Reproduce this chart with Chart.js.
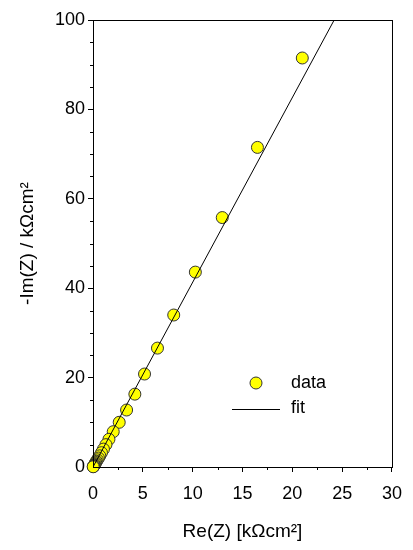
<!DOCTYPE html>
<html>
<head>
<meta charset="utf-8">
<script src="https://cdn.jsdelivr.net/npm/chart.js@4"></script>
<style>
  html, body { margin:0; padding:0; background:#fff; }
  #wrap { width:413px; height:550px; }
</style>
</head>
<body>
<div id="wrap"><canvas id="chart" width="413" height="550"></canvas></div>
<script>
// ── data ─────────────────────────────────────────────────────────────────────
const reZ = [21.0, 16.5, 12.97, 10.27, 8.1, 6.47, 5.17, 4.2, 3.37, 2.63, 2.03, 1.6, 1.3, 1.05,
             0.85, 0.68, 0.55, 0.43, 0.34, 0.27, 0.21, 0.16, 0.12, 0.09, 0.06, 0.04, 0.02];
const imZ = [91.5, 71.5, 55.8, 43.6, 34.0, 26.6, 20.8, 16.3, 12.75, 10.0, 7.9, 6.2, 5.0, 4.0,
             3.2, 2.5, 2.0, 1.6, 1.25, 1.0, 0.75, 0.55, 0.4, 0.28, 0.18, 0.1, 0.05];
const fitX = [0, 24.2];
const fitY = [0, 100];
const xTicksMinor = [2.5, 7.5, 12.5, 17.5, 22.5, 27.5];
const yTicksMinor = [5, 10, 15, 25, 30, 35, 45, 50, 55, 65, 70, 75, 85, 90, 95];

const FONT = "'Liberation Sans', Arial, sans-serif";
Chart.defaults.font.family = FONT;
Chart.defaults.color = "#000";

// frame + minor ticks + in-plot legend
const framePlugin = {
  id: "frame",
  afterDraw(chart) {
    const { ctx, chartArea: a, scales } = chart;
    ctx.save();
    ctx.strokeStyle = "#000";
    ctx.lineWidth = 1;
    ctx.strokeRect(a.left + 0.5, a.top + 0.5, a.right - a.left, a.bottom - a.top);
    ctx.beginPath();
    xTicksMinor.forEach(v => {
      const px = Math.round(scales.x.getPixelForValue(v)) + 0.5;
      ctx.moveTo(px, a.bottom); ctx.lineTo(px, a.bottom + 3);
    });
    yTicksMinor.forEach(v => {
      const py = Math.round(scales.y.getPixelForValue(v)) + 0.5;
      ctx.moveTo(a.left, py); ctx.lineTo(a.left - 3, py);
    });
    ctx.stroke();

    // legend
    const lx = 256, ly = 383;
    ctx.beginPath();
    ctx.arc(lx, ly, 6, 0, Math.PI * 2);
    ctx.fillStyle = "#ffff00"; ctx.fill();
    ctx.strokeStyle = "#333"; ctx.stroke();
    ctx.beginPath();
    ctx.moveTo(232, 409.5); ctx.lineTo(280, 409.5);
    ctx.strokeStyle = "#000"; ctx.stroke();
    ctx.fillStyle = "#000";
    ctx.font = "18px " + FONT;
    ctx.textBaseline = "middle";
    ctx.fillText("data", 291, ly);
    ctx.fillText("fit", 291, 408);
    ctx.restore();
  }
};

new Chart(document.getElementById("chart"), {
  type: "scatter",
  data: {
    datasets: [
      {
        label: "fit", type: "line",
        data: fitX.map((x, i) => ({ x, y: fitY[i] })),
        borderColor: "#000", borderWidth: 1, pointRadius: 0, fill: false, order: 1
      },
      {
        label: "data",
        data: reZ.map((x, i) => ({ x, y: imZ[i] })),
        backgroundColor: "#ffff00", borderColor: "#333", borderWidth: 1,
        pointRadius: 6, clip: false, order: 2
      }
    ]
  },
  options: {
    responsive: false, animation: false,
    layout: { padding: { top: 20, right: 20, left: 0, bottom: 0 } },
    plugins: { legend: { display: false }, tooltip: { enabled: false } },
    scales: {
      x: {
        type: "linear", min: 0, max: 30,
        afterFit: s => { s.height = 83; },
        ticks: { stepSize: 5, font: { size: 18 }, padding: 11, maxRotation: 0 },
        grid: { display: true, drawOnChartArea: false, tickLength: 5, color: "#000" },
        border: { color: "#000" },
        title: { display: true, text: "Re(Z) [kΩcm²]", font: { size: 19 }, padding: { top: 0, bottom: 7 } }
      },
      y: {
        type: "linear", min: 0, max: 100,
        afterFit: s => { s.width = 93; },
        ticks: { stepSize: 20, font: { size: 18 }, padding: 3 },
        grid: { display: true, drawOnChartArea: false, tickLength: 5, color: "#000" },
        border: { color: "#000" },
        title: { display: true, text: "-Im(Z) / kΩcm²", font: { size: 19 }, padding: { top: 16, bottom: 0 } }
      }
    }
  },
  plugins: [framePlugin]
});
</script>
</body>
</html>
